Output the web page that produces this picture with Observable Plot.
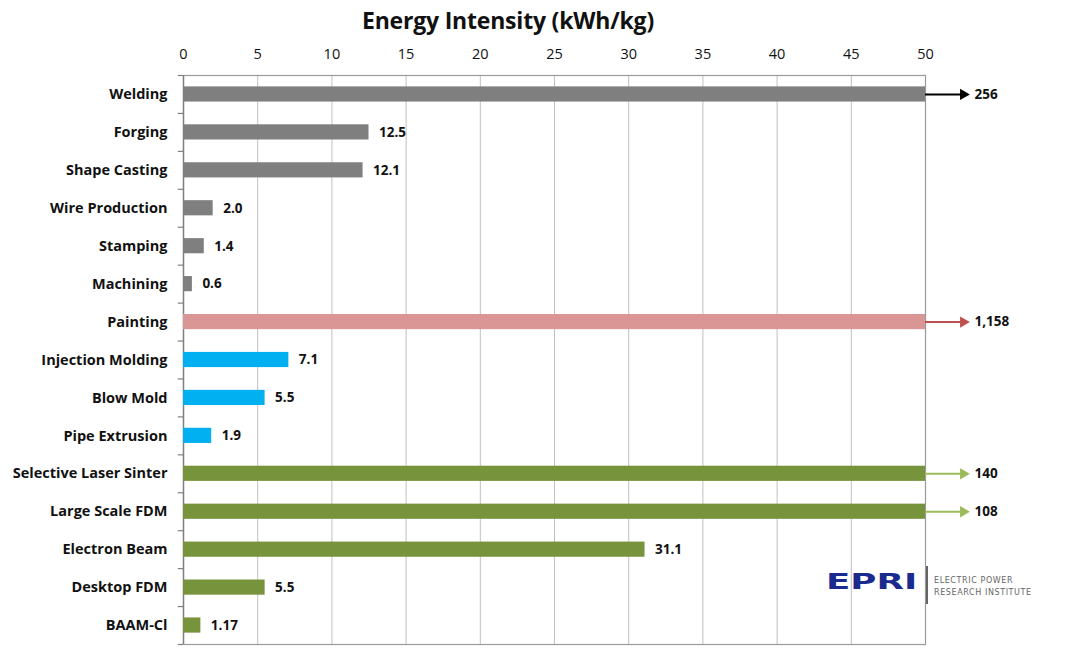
<!DOCTYPE html>
<html>
<head>
<meta charset="utf-8">
<script src="https://cdn.jsdelivr.net/npm/d3@7"></script>
<script src="https://cdn.jsdelivr.net/npm/@observablehq/plot@0.6"></script>
<style>
  html, body { margin: 0; padding: 0; background: #fff; }
  #wrap { position: relative; width: 1065px; height: 648px; overflow: hidden; font-family: "Open Sans", sans-serif; }
  #title { position: absolute; left: 0; top: 4px; width: 1016px; text-align: center; font-size: 23px; font-weight: 700; color: #111; letter-spacing: -0.2px; }
  #chart { position: absolute; left: 0; top: 40px; }
  #logo { position: absolute; left: 826px; top: 570px; }
  #logo .mark { position: absolute; left: 0; top: 0; font-family: "DejaVu Sans", sans-serif; font-weight: 700; font-size: 22px; line-height: 26px; color: #1b2a8f; letter-spacing: 0px; transform: scale(1.62, 0.95); transform-origin: left top; white-space: nowrap; }
  #logo .sep { position: absolute; left: 100px; top: -4px; width: 1.5px; height: 38px; background: #666; }
  #logo .name { position: absolute; left: 108px; top: 5px; font-family: "DejaVu Sans", sans-serif; font-size: 8px; line-height: 12px; color: #666; letter-spacing: 0.6px; white-space: nowrap; }
</style>
</head>
<body>
<div id="wrap">
  <div id="title">Energy Intensity (kWh/kg)</div>
  <div id="chart"></div>
  <div id="logo"><div class="mark">EPRI</div><div class="sep"></div><div class="name">ELECTRIC POWER<br>RESEARCH INSTITUTE</div></div>
</div>
<script>
// ---- data ----
const categories = ["Welding","Forging","Shape Casting","Wire Production","Stamping","Machining","Painting","Injection Molding","Blow Mold","Pipe Extrusion","Selective Laser Sinter","Large Scale FDM","Electron Beam","Desktop FDM","BAAM-Cl"];
const values = [256, 12.5, 12.1, 2.0, 1.4, 0.6, 1158, 7.1, 5.5, 1.9, 140, 108, 31.1, 5.5, 1.17];
const valueLabels = ["256","12.5","12.1","2.0","1.4","0.6","1,158","7.1","5.5","1.9","140","108","31.1","5.5","1.17"];
const groups = ["Metal","Metal","Metal","Metal","Metal","Metal","Paint","Plastic","Plastic","Plastic","Additive","Additive","Additive","Additive","Additive"];
const xTicks = [0,5,10,15,20,25,30,35,40,45,50];
const xMax = 50;

// ---- styles ----
const groupColors = {Metal: "#7f7f7f", Paint: "#da9694", Plastic: "#00b0f0", Additive: "#77933c"};
const arrowColors = {Metal: "#000000", Paint: "#c0504d", Plastic: "#00b0f0", Additive: "#9bbb59"};

const rows = categories.map((c, i) => ({
  cat: c, value: values[i], label: valueLabels[i], group: groups[i],
  shown: Math.min(values[i], xMax), over: values[i] > xMax
}));
const overRows = rows.filter(d => d.over);
const inRows = rows.filter(d => !d.over);

const W = 1065, H = 608, mt = 35, mb = 4, ml = 183, mr = 140;
const step = (H - mt - mb) / categories.length;
const font = "'Open Sans', sans-serif";

const chart = Plot.plot({
  width: W, height: H,
  marginTop: mt, marginBottom: mb, marginLeft: ml, marginRight: mr,
  style: {fontFamily: font, background: "transparent"},
  x: {domain: [0, xMax]},
  y: {domain: categories, paddingInner: 0.6, paddingOuter: 0.3, align: 0.5, round: false},
  marks: [
    Plot.gridX(xTicks.filter(t => t > 0 && t < xMax), {stroke: "#c0c0c0", strokeOpacity: 1, strokeWidth: 1}),
    Plot.frame({stroke: "#9a9a9a", strokeWidth: 1.2}),
    Plot.ruleX([0], {stroke: "#808080", strokeWidth: 1.4}),
    // category boundary ticks on the left axis
    Plot.ruleY(categories, {y: d => d, x1: -0.35, x2: 0, dy: step / 2, stroke: "#808080", strokeWidth: 1.2}),
    Plot.ruleY(categories.slice(0, 1), {y: d => d, x1: -0.35, x2: 0, dy: -step / 2, stroke: "#808080", strokeWidth: 1.2}),
    Plot.barX(rows, {y: "cat", x: "shown", fill: d => groupColors[d.group]}),
    // values within range
    Plot.text(inRows, {y: "cat", x: "shown", text: "label", dx: 10, textAnchor: "start", fontWeight: 700, fontSize: 13.5, fill: "#111"}),
    // overflow arrows
    Plot.ruleY(overRows, {y: "cat", x1: xMax, x2: 52.5, stroke: d => arrowColors[d.group], strokeWidth: 2}),
    Plot.dot(overRows, {y: "cat", x: 52.55, symbol: "triangle", rotate: 90, r: 4.2, fill: d => arrowColors[d.group], stroke: "none"}),
    Plot.text(overRows, {y: "cat", x: 53.3, text: "label", textAnchor: "start", fontWeight: 700, fontSize: 13.5, fill: "#111"}),
    Plot.axisX({anchor: "top", ticks: xTicks, tickSize: 0, tickPadding: 17, fontSize: 14.5, fill: "#111", label: null}),
    Plot.axisY({tickSize: 0, tickPadding: 16, fontSize: 14.5, fontWeight: 700, fill: "#111", label: null})
  ]
});
document.getElementById("chart").appendChild(chart);
</script>
</body>
</html>
